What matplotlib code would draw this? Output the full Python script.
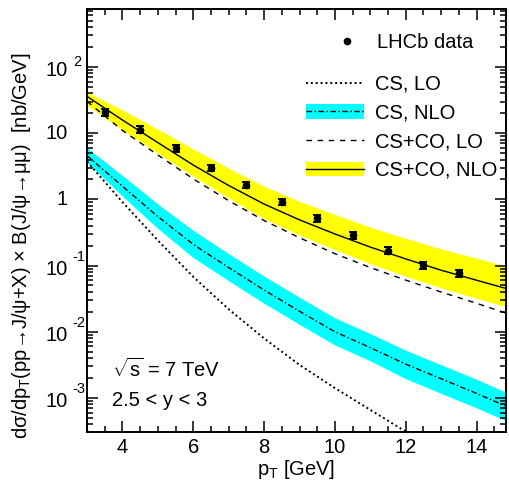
import matplotlib
matplotlib.use("Agg")
import matplotlib.pyplot as plt
from matplotlib.ticker import FixedLocator, LogLocator, MultipleLocator, NullFormatter
from matplotlib.lines import Line2D
from matplotlib.patches import Patch

plt.rcParams['font.family'] = ['Liberation Sans', 'DejaVu Sans']
plt.rcParams['mathtext.fontset'] = 'custom'
plt.rcParams['mathtext.rm'] = 'Liberation Sans'
plt.rcParams['mathtext.it'] = 'Liberation Sans:italic'
plt.rcParams['mathtext.sf'] = 'Liberation Sans'

# ---------------- data ----------------
pt_theory = [3, 4, 5, 6, 7, 8, 9, 10, 11, 12, 13, 14, 14.9]

cs_co_nlo = [36.0, 15.8, 7.2, 3.3, 1.62, 0.85, 0.49, 0.30, 0.19, 0.126, 0.085, 0.060, 0.044]
cs_co_nlo_hi = [41.7, 22.4, 11.5, 5.75, 2.95, 1.58, 0.93, 0.59, 0.38, 0.257, 0.178, 0.129, 0.096]
cs_co_nlo_lo = [26.3, 11.2, 5.0, 2.24, 1.05, 0.513, 0.288, 0.174, 0.107, 0.069, 0.046, 0.032, 0.0234]

cs_co_lo = [30.2, 11.0, 4.68, 2.04, 0.955, 0.479, 0.263, 0.151, 0.0933, 0.0603, 0.0398, 0.0269, 0.0186]

cs_nlo = [4.57, 1.58, 0.55, 0.209, 0.0933, 0.0427, 0.0204, 0.0100, 0.00575, 0.00324, 0.00195, 0.00117, 0.000724]
cs_nlo_hi = [6.03, 2.29, 0.851, 0.339, 0.151, 0.0692, 0.0331, 0.0162, 0.00933, 0.00525, 0.00316, 0.00191, 0.00117]
cs_nlo_lo = [3.63, 1.12, 0.363, 0.132, 0.0589, 0.0269, 0.0129, 0.0063, 0.00363, 0.00195, 0.00117, 0.000708, 0.000437]

pt_cs_lo = [3, 4, 5, 6, 7, 8, 9, 10, 11, 12]
cs_lo = [3.72, 0.912, 0.24, 0.0676, 0.0219, 0.00794, 0.00316, 0.00141, 0.00066, 0.00031]

pt_data = [3.5, 4.5, 5.5, 6.5, 7.5, 8.5, 9.5, 10.5, 11.5, 12.5, 13.5]
lhcb = [20.7, 11.3, 5.95, 3.0, 1.66, 0.92, 0.52, 0.285, 0.168, 0.102, 0.076]
lhcb_err = [2.5, 1.4, 0.7, 0.36, 0.2, 0.11, 0.065, 0.035, 0.02, 0.013, 0.009]

xticks = [4, 6, 8, 10, 12, 14]
yticks = [1e-3, 1e-2, 1e-1, 1, 10, 100]
ytick_base = ['10', '10', '10', '1', '10', '10']
ytick_exp = ['-3', '-2', '-1', '', '', '2']

legend_labels = ['LHCb data', 'CS, LO', 'CS, NLO', 'CS+CO, LO', 'CS+CO, NLO']

# ---------------- figure ----------------
W, H = 509, 491
fig = plt.figure(figsize=(W / 100, H / 100), dpi=100)
ax = fig.add_axes([87 / W, 1 - 432 / H, (506 - 87) / W, (432 - 9) / H])

yellow = '#FFFF00'
cyan = '#00FFFF'
dot_ls = (0, (1, 1.5))
dashdot_ls = (0, (4, 1.8, 1, 1.8))
dash_ls = (0, (4, 4))

ax.fill_between(pt_theory, cs_co_nlo_lo, cs_co_nlo_hi, color=yellow, lw=0, zorder=1)
ax.fill_between(pt_theory, cs_nlo_lo, cs_nlo_hi, color=cyan, lw=0, zorder=1)

ax.plot(pt_cs_lo, cs_lo, color='black', lw=1.4, ls=dot_ls, dash_capstyle='butt', zorder=3)
ax.plot(pt_theory, cs_nlo, color='black', lw=1.0, ls=dashdot_ls, zorder=3)
ax.plot(pt_theory, cs_co_lo, color='black', lw=1.0, ls=dash_ls, zorder=3)
ax.plot(pt_theory, cs_co_nlo, color='black', lw=1.0, ls='-', zorder=3)

ax.errorbar(pt_data, lhcb, yerr=lhcb_err, fmt='o', color='black', ms=4.5,
            elinewidth=1.4, capsize=3, capthick=1.4, zorder=4)

ax.set_yscale('log')
ax.set_xlim(3, 14.83)
ax.set_ylim(3.06e-4, 751)

ax.xaxis.set_major_locator(FixedLocator(xticks))
ax.xaxis.set_minor_locator(MultipleLocator(0.5))
ax.yaxis.set_major_locator(FixedLocator(yticks))
ax.yaxis.set_major_formatter(NullFormatter())
ax.yaxis.set_minor_locator(LogLocator(base=10, subs=range(2, 10), numticks=20))
ax.yaxis.set_minor_formatter(NullFormatter())

ax.tick_params(which='both', direction='in', top=True, right=True, width=1.1,
               labelsize=14.5)
ax.tick_params(which='major', length=8)
ax.tick_params(which='minor', length=4)
ax.tick_params(axis='x', pad=4)
for s in ax.spines.values():
    s.set_linewidth(1.4)

# ROOT-style y tick labels: "10" with a raised exponent
for val, base, ex in zip(yticks, ytick_base, ytick_exp):
    if ex:
        ax.annotate(base, xy=(0, val), xycoords=('axes fraction', 'data'),
                    xytext=(-19, -4), textcoords='offset pixels',
                    ha='right', va='center', fontsize=14.5)
        dy = 9 if ex.startswith('-') else 5
        dx = -15 if ex.startswith('-') else -14
        ax.annotate(ex, xy=(0, val), xycoords=('axes fraction', 'data'),
                    xytext=(dx, dy), textcoords='offset pixels',
                    ha='left', va='center', fontsize=10.5)
    else:
        ax.annotate(base, xy=(0, val), xycoords=('axes fraction', 'data'),
                    xytext=(-19, 0), textcoords='offset pixels',
                    ha='right', va='center', fontsize=14.5)

ax.set_xlabel(r'p$_\mathregular{T}$ [GeV]', fontsize=14.5, labelpad=1)
fig.text(22 / W, 1 - 246 / H,
         'dσ/dp$_\\mathregular{T}$(pp→J/ψ+X) × B(J/ψ→μμ)  [nb/GeV]',
         rotation=90, ha='center', va='center', fontsize=14.5)

ax.text(0.06, 0.148, r'$\sqrt{\mathregular{s}}$ = 7 TeV', transform=ax.transAxes,
        fontsize=14.5, va='center', ha='left')
ax.text(0.06, 0.075, '2.5 < y < 3', transform=ax.transAxes,
        fontsize=14.5, va='center', ha='left')

h_data = [Line2D([], [], color='black', marker='o', ms=4.5, ls='none')]
h_theory = [
    Line2D([], [], color='black', lw=1.4, ls=dot_ls, dash_capstyle='butt'),
    (Patch(facecolor=cyan, lw=0), Line2D([], [], color='black', lw=1.0, ls=dashdot_ls)),
    Line2D([], [], color='black', lw=1.0, ls=dash_ls),
    (Patch(facecolor=yellow, lw=0), Line2D([], [], color='black', lw=1.0)),
]
leg1 = ax.legend(h_data, legend_labels[:1], loc='upper left',
                 bbox_to_anchor=(0.578, 0.943), frameon=False, fontsize=14.5,
                 handlelength=1.8, handletextpad=0.55,
                 borderpad=0, borderaxespad=0)
ax.add_artist(leg1)
ax.legend(h_theory, legend_labels[1:], loc='upper left',
          bbox_to_anchor=(0.523, 0.844), frameon=False, fontsize=14.5,
          handlelength=2.85, handleheight=0.75, handletextpad=0.55,
          labelspacing=0.48, borderpad=0, borderaxespad=0)

fig.savefig('out.png', dpi=100)
